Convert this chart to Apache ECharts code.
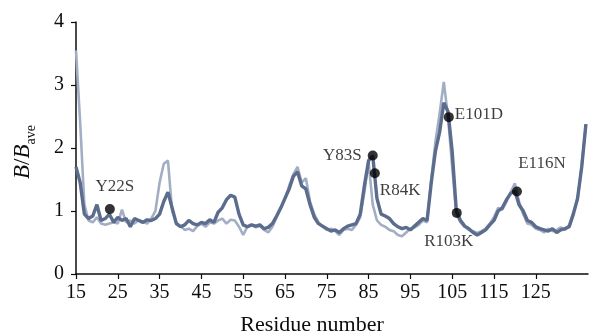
<!DOCTYPE html>
<html>
<head>
<meta charset="utf-8">
<script src="https://cdn.jsdelivr.net/npm/echarts@6/dist/echarts.min.js"></script>
<style>
html,body{margin:0;padding:0;background:#fff;}
#c{width:589px;height:336px;}
</style>
</head>
<body>
<div id="c"></div>
<script>
// Residue numbers run from 15 to 137 (one value per residue)
const residueStart = 15;
const seriesDark = [
1.70,1.45,0.95,0.88,0.92,1.10,0.85,0.88,0.95,0.82,
0.90,0.85,0.88,0.75,0.88,0.85,0.82,0.86,0.85,0.88,
0.95,1.15,1.30,1.05,0.80,0.75,0.78,0.85,0.80,0.78,
0.82,0.80,0.86,0.82,0.98,1.05,1.18,1.25,1.22,0.95,
0.78,0.75,0.78,0.76,0.78,0.72,0.74,0.80,0.92,1.05,
1.20,1.35,1.55,1.62,1.40,1.35,1.10,0.90,0.80,0.76,
0.72,0.68,0.70,0.66,0.72,0.76,0.78,0.80,0.95,1.40,
1.80,1.88,1.20,0.95,0.92,0.88,0.80,0.75,0.72,0.74,
0.70,0.76,0.82,0.88,0.85,1.45,1.95,2.25,2.72,2.58,
1.95,1.00,0.85,0.76,0.72,0.66,0.62,0.66,0.70,0.78,
0.85,1.00,1.05,1.18,1.28,1.32,1.10,1.00,0.85,0.82,
0.75,0.72,0.70,0.68,0.72,0.66,0.70,0.72,0.75,0.95,
1.20,1.70,2.38
];
const seriesLight = [
3.55,2.40,1.10,0.85,0.82,0.90,0.80,0.78,0.80,0.82,
0.80,1.02,0.82,0.85,0.80,0.86,0.83,0.80,0.88,1.00,
1.45,1.75,1.80,1.00,0.82,0.76,0.70,0.72,0.68,0.76,
0.80,0.75,0.82,0.80,0.85,0.88,0.80,0.86,0.85,0.75,
0.62,0.75,0.78,0.74,0.76,0.70,0.66,0.75,0.90,1.05,
1.20,1.40,1.58,1.70,1.45,1.52,1.15,0.95,0.82,0.75,
0.70,0.72,0.68,0.62,0.70,0.72,0.70,0.78,0.90,1.30,
1.78,1.10,0.85,0.78,0.75,0.70,0.68,0.62,0.60,0.66,
0.72,0.74,0.78,0.85,0.82,1.50,2.10,2.55,3.05,2.50,
1.70,0.95,0.82,0.75,0.70,0.68,0.65,0.68,0.72,0.80,
0.90,1.05,1.02,1.15,1.30,1.44,1.15,0.95,0.80,0.78,
0.72,0.70,0.66,0.72,0.68,0.70,0.74,0.70,0.78,0.98,
1.18,1.72,2.38
];
const mutationNames = ['Y22S','Y83S','R84K','E101D','R103K','E116N'];
const mutationX = [23.1, 86.0, 86.5, 104.2, 106.1, 120.5];
const mutationY = [1.03, 1.88, 1.60, 2.49, 0.97, 1.31];
const xTicks = [15,25,35,45,55,65,75,85,95,105,115,125];
const yTicks = [0,1,2,3,4];

// label layout (styling only)
const labelLayout = {
  'Y22S': {position:'top', distance:9, offset:[5,0]},
  'Y83S': {position:'left', distance:6, offset:[0,0]},
  'R84K': {position:'right', distance:0, offset:[0,17]},
  'E101D': {position:'right', distance:1, offset:[0,-3]},
  'R103K': {position:'bottom', distance:15, offset:[-8,0]},
  'E116N': {position:'top', distance:14, offset:[25,0]}
};

const toPairs = arr => arr.map((v,i) => [residueStart + i, v]);
const serif = '"Liberation Serif","Times New Roman",serif';
const ink = '#0d0d0d';

const chart = echarts.init(document.getElementById('c'), null, {renderer:'canvas'});
chart.setOption({
  animation:false,
  backgroundColor:'#fff',
  grid:{left:76, right:1, top:22, bottom:62, outerBoundsMode:'none', containLabel:false},
  xAxis:{
    type:'value', min:15, max:137.5,
    axisLine:{show:true, lineStyle:{color:ink, width:1.5}},
    axisTick:{show:true, customValues:xTicks, length:5, lineStyle:{color:ink, width:1.2}},
    axisLabel:{customValues:xTicks, color:ink, fontFamily:serif, fontSize:20, margin:9},
    splitLine:{show:false},
    name:'Residue number', nameLocation:'middle', nameGap:40,
    nameTextStyle:{color:ink, fontFamily:serif, fontSize:22, padding:[0,40,0,0]}
  },
  yAxis:{
    type:'value', min:0, max:4,
    axisLine:{show:true, lineStyle:{color:ink, width:1.5}},
    axisTick:{show:true, customValues:yTicks, length:5, lineStyle:{color:ink, width:1.2}},
    axisLabel:{customValues:yTicks, color:ink, fontFamily:serif, fontSize:20, margin:12},
    splitLine:{show:false},
    name:'{b|B}{n|/}{b|B}{s|ave}', nameLocation:'middle', nameGap:38, nameRotate:90,
    nameTextStyle:{
      color:ink, fontFamily:serif, fontSize:23, padding:[0,8,0,0],
      rich:{
        b:{fontStyle:'italic', fontFamily:serif, fontSize:23, color:ink, lineHeight:30, verticalAlign:'middle'},
        n:{fontFamily:serif, fontSize:23, color:ink, lineHeight:30, verticalAlign:'middle'},
        s:{fontFamily:serif, fontSize:14, color:ink, lineHeight:30, verticalAlign:'bottom', padding:[9,0,0,0]}
      }
    }
  },
  series:[
    {
      type:'line', data:toPairs(seriesLight), showSymbol:false, symbol:'none',
      lineStyle:{color:'#a3aec4', width:2.6}, z:2
    },
    {
      type:'line', data:toPairs(seriesDark), showSymbol:false, symbol:'none',
      lineStyle:{color:'#5b6c8c', width:3.4}, z:3
    },
    {
      type:'scatter', symbolSize:10, z:5,
      itemStyle:{color:'#000'},
      data: mutationNames.map((n,i) => ({
        value:[mutationX[i], mutationY[i]], name:n,
        label:Object.assign({show:true, formatter:n, color:ink, fontFamily:serif, fontSize:17}, labelLayout[n])
      }))
    }
  ]
});
</script>
</body>
</html>
